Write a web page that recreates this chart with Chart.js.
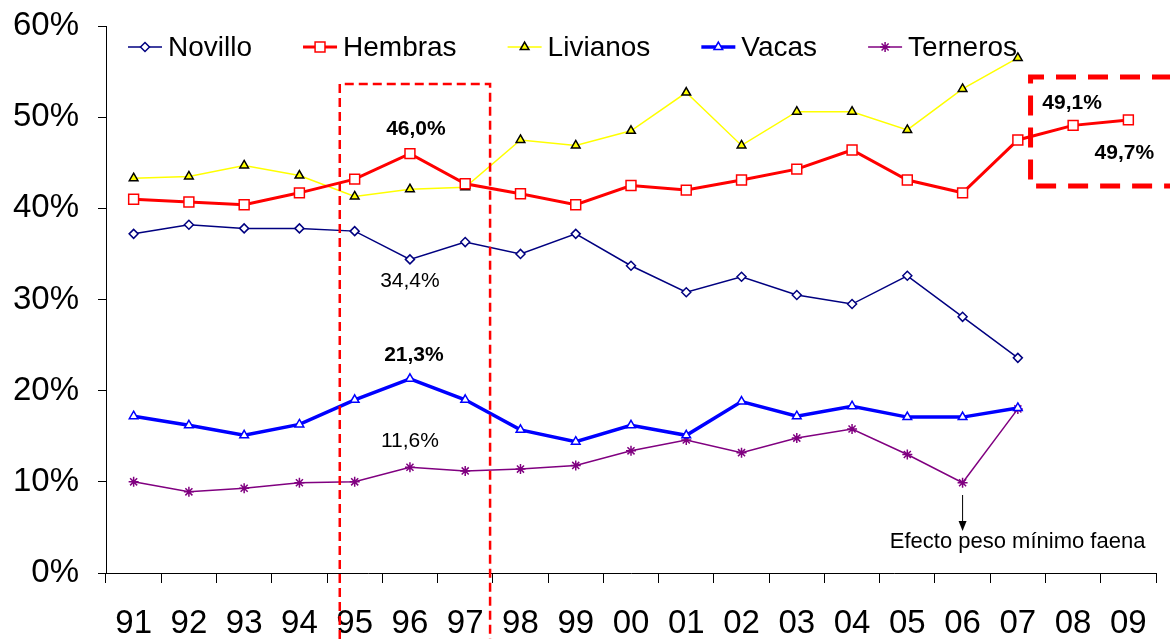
<!DOCTYPE html>
<html><head><meta charset="utf-8">
<script src="https://cdn.jsdelivr.net/npm/chart.js@4/dist/chart.umd.min.js"></script>
<style>html,body{margin:0;padding:0;background:#fff}#wrap{width:1170px;height:639px}</style>
</head><body><div id="wrap"><canvas id="c" width="1170" height="639"></canvas></div>
<script>
const years = ['91','92','93','94','95','96','97','98','99','00','01','02','03','04','05','06','07','08','09'];
const novillo  = [37.2,38.2,37.8,37.8,37.5,34.4,36.3,35.0,37.2,33.7,30.8,32.5,30.5,29.5,32.6,28.1,23.6,null,null];
const hembras  = [41.0,40.7,40.4,41.7,43.2,46.0,42.7,41.6,40.4,42.5,42.0,43.1,44.3,46.4,43.1,41.7,47.5,49.1,49.7];
const livianos = [43.3,43.5,44.7,43.6,41.3,42.1,42.3,47.5,46.9,48.5,52.7,46.9,50.6,50.6,48.6,53.1,56.5,null,null];
const vacas    = [17.2,16.2,15.1,16.3,19.0,21.3,19.0,15.7,14.4,16.2,15.1,18.8,17.2,18.3,17.1,17.1,18.1,null,null];
const terneros = [10.0,8.9,9.3,9.9,10.0,11.6,11.2,11.4,11.8,13.4,14.6,13.2,14.8,15.8,13.0,9.9,18.0,null,null];
const yTicks = [0,10,20,30,40,50,60];

const FONT = "'Liberation Sans', Arial, sans-serif";

const datasets = [
  {label:'Novillo', data:novillo, borderColor:'#000080', backgroundColor:'#ffffff', borderWidth:1.5,
   pointStyle:'rectRot', pointRadius:4.5, pointBorderWidth:1.5, pointBorderColor:'#000080', pointBackgroundColor:'#ffffff'},
  {label:'Hembras', data:hembras, borderColor:'#ff0000', backgroundColor:'#ffffff', borderWidth:3,
   pointStyle:'rect', pointRadius:7, pointBorderWidth:1.5, pointBorderColor:'#ff0000', pointBackgroundColor:'#ffffff'},
  {label:'Livianos', data:livianos, borderColor:'#ffff00', backgroundColor:'#ffff00', borderWidth:1.5,
   pointStyle:'triangle', pointRadius:5, pointBorderWidth:1.5, pointBorderColor:'#000000', pointBackgroundColor:'#ffff00'},
  {label:'Vacas', data:vacas, borderColor:'#0000ff', backgroundColor:'#ffffff', borderWidth:3.5,
   pointStyle:'triangle', pointRadius:5, pointBorderWidth:1.5, pointBorderColor:'#0000ff', pointBackgroundColor:'#ffffff'},
  {label:'Terneros', data:terneros, borderColor:'#800080', backgroundColor:'#800080', borderWidth:1.5,
   pointStyle:'star', pointRadius:5, pointBorderWidth:1.5, pointBorderColor:'#800080', pointBackgroundColor:'#800080'}
];

function drawMarker(ctx, style, x, y, r){
  ctx.beginPath();
  if(style==='rect'){ const s=Math.SQRT1_2*r; ctx.rect(x-s,y-s,2*s,2*s); ctx.fill(); ctx.stroke(); }
  else if(style==='rectRot'){ ctx.moveTo(x,y-r);ctx.lineTo(x+r,y);ctx.lineTo(x,y+r);ctx.lineTo(x-r,y);ctx.closePath();ctx.fill();ctx.stroke(); }
  else if(style==='triangle'){
    const a0=-Math.PI/2; ctx.moveTo(x+Math.cos(a0)*r,y+Math.sin(a0)*r);
    for(let i=1;i<3;i++){const a=a0+i*2*Math.PI/3;ctx.lineTo(x+Math.cos(a)*r,y+Math.sin(a)*r);} ctx.closePath();ctx.fill();ctx.stroke(); }
  else if(style==='star'){
    for(let i=0;i<4;i++){const a=i*Math.PI/4;ctx.moveTo(x-Math.cos(a)*r,y-Math.sin(a)*r);ctx.lineTo(x+Math.cos(a)*r,y+Math.sin(a)*r);} ctx.stroke(); }
}

const annot = {
  id:'annot',
  afterDatasetsDraw(chart){
    const ctx=chart.ctx, xs=chart.scales.x, ys=chart.scales.y, ca=chart.chartArea;
    ctx.save();
    // custom legend
    ctx.font = "28px "+FONT; ctx.textBaseline='middle'; ctx.textAlign='left';
    let lx = ca.left+22; const ly = 47;
    datasets.forEach(ds=>{
      ctx.strokeStyle=ds.borderColor; ctx.lineWidth=ds.borderWidth; ctx.setLineDash([]);
      ctx.beginPath(); ctx.moveTo(lx,ly); ctx.lineTo(lx+34,ly); ctx.stroke();
      ctx.fillStyle=ds.pointBackgroundColor; ctx.strokeStyle=ds.pointBorderColor; ctx.lineWidth=ds.pointBorderWidth;
      drawMarker(ctx, ds.pointStyle, lx+17, ly, ds.pointRadius);
      ctx.fillStyle='#000'; ctx.fillText(ds.label, lx+40, ly+1);
      lx += 40 + ctx.measureText(ds.label).width + 51;
    });
    // value labels
    const lab=(txt,i,arr,dx,dy,bold)=>{
      ctx.font=(bold?'bold ':'')+"21px "+FONT; ctx.fillStyle='#000'; ctx.textAlign='center'; ctx.textBaseline='middle';
      ctx.fillText(txt, xs.getPixelForValue(i)+dx, ys.getPixelForValue(arr[i])+dy);
    };
    lab('46,0%',5,hembras,6,-24,true);
    lab('34,4%',5,novillo,0,22,false);
    lab('21,3%',5,vacas,4,-24,true);
    lab('11,6%',5,terneros,0,-26,false);
    lab('49,1%',17,hembras,-1,-22,true);
    lab('49,7%',18,hembras,-4,33,true);
    // arrow + note
    const ax = xs.getPixelForValue(15);
    ctx.strokeStyle='#000'; ctx.lineWidth=1; ctx.beginPath(); ctx.moveTo(ax,495); ctx.lineTo(ax,523); ctx.stroke();
    ctx.fillStyle='#000'; ctx.beginPath(); ctx.moveTo(ax-4,521); ctx.lineTo(ax+4,521); ctx.lineTo(ax,531); ctx.closePath(); ctx.fill();
    ctx.font="22px "+FONT; ctx.textAlign='center'; ctx.textBaseline='middle';
    ctx.fillText('Efecto peso mínimo faena', ax+55, 542);
    // dashed rectangles
    ctx.strokeStyle='#ff0000';
    ctx.lineWidth=2.5; ctx.setLineDash([9,5]);
    const r1l=xs.getPixelForValue(3.73), r1r=xs.getPixelForValue(6.45);
    ctx.beginPath(); ctx.moveTo(r1l,639); ctx.lineTo(r1l,84); ctx.lineTo(r1r,84); ctx.lineTo(r1r,639); ctx.stroke();
    ctx.lineWidth=5; ctx.setLineDash([20,12]);
    const r2l=xs.getPixelForValue(16.23);
    ctx.beginPath(); ctx.moveTo(1172,77); ctx.lineTo(r2l,77); ctx.lineTo(r2l,186); ctx.lineTo(1172,186); ctx.stroke();
    ctx.restore();
  }
};

new Chart(document.getElementById('c'), {
  type:'line',
  data:{labels:years, datasets:datasets.map(d=>Object.assign({tension:0, spanGaps:false}, d))},
  plugins:[annot],
  options:{
    responsive:false, animation:false, devicePixelRatio:1,
    layout:{padding:{left:0,right:14,top:26,bottom:0}},
    plugins:{legend:{display:false}, tooltip:{enabled:false}},
    scales:{
      x:{type:'category', offset:true,
         grid:{offset:true, drawOnChartArea:false, tickLength:10, color:'#000', lineWidth:1},
         border:{color:'#000', width:1},
         ticks:{font:{family:FONT,size:33}, color:'#000', padding:21, maxRotation:0, autoSkip:false},
         afterFit(s){s.height=66; s.paddingLeft=0; s.paddingRight=0;}},
      y:{min:0, max:60, afterBuildTicks(s){s.ticks=yTicks.map(v=>({value:v}));},
         ticks:{font:{family:FONT,size:33}, color:'#000', padding:19, callback:v=>v+'%'},
         grid:{drawOnChartArea:false, tickLength:8, color:'#000', lineWidth:1},
         border:{color:'#000', width:1},
         afterFit(s){s.width=106; s.paddingTop=0; s.paddingBottom=0;}}
    }
  }
});
</script></body></html>
